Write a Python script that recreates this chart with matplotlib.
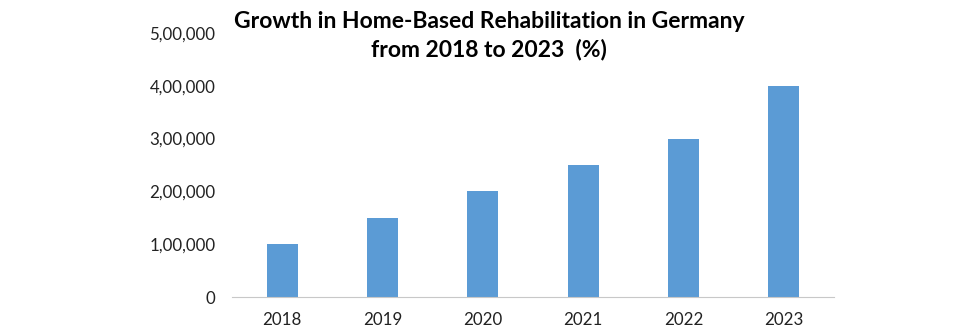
import matplotlib.pyplot as plt
from matplotlib.ticker import FuncFormatter

years = ["2018", "2019", "2020", "2021", "2022", "2023"]
patients = [100000, 150000, 200000, 250000, 300000, 400000]
y_ticks = [0, 100000, 200000, 300000, 400000, 500000]


def indian_format(v, pos=None):
    # lakh-style grouping: 5,00,000
    v = int(round(v))
    s = str(v)
    if len(s) <= 3:
        return s
    head, tail = s[:-3], s[-3:]
    groups = []
    while len(head) > 2:
        groups.insert(0, head[-2:])
        head = head[:-2]
    if head:
        groups.insert(0, head)
    return ",".join(groups) + "," + tail


plt.rcParams['font.family'] = ['Lato', 'DejaVu Sans']

fig = plt.figure(figsize=(9.57, 3.32), dpi=100)
ax = fig.add_axes([0.2424, 0.1054, 0.6291, 0.7952])

x = range(len(years))
ax.bar(x, patients, width=0.31, color="#5B9BD5", zorder=2)

ax.set_xlim(-0.5, len(years) - 0.5)
ax.set_ylim(0, 500000)
ax.set_yticks(y_ticks)
ax.yaxis.set_major_formatter(FuncFormatter(indian_format))
ax.set_xticks(list(x))
ax.set_xticklabels(years)

for side in ["left", "right", "top"]:
    ax.spines[side].set_visible(False)
ax.spines["bottom"].set_color("#C8C8C8")
ax.spines["bottom"].set_linewidth(0.8)
ax.tick_params(axis="both", length=0, labelsize=12.2, colors="#222222")
ax.tick_params(axis="y", pad=12)
ax.tick_params(axis="x", pad=11)

fig.text(0.511, 0.892, "Growth in Home-Based Rehabilitation in Germany\nfrom 2018 to 2023  (%)",
         ha="center", va="center", fontsize=16.5, fontweight="bold", linespacing=1.35)

fig.savefig("out.png", dpi=100)
